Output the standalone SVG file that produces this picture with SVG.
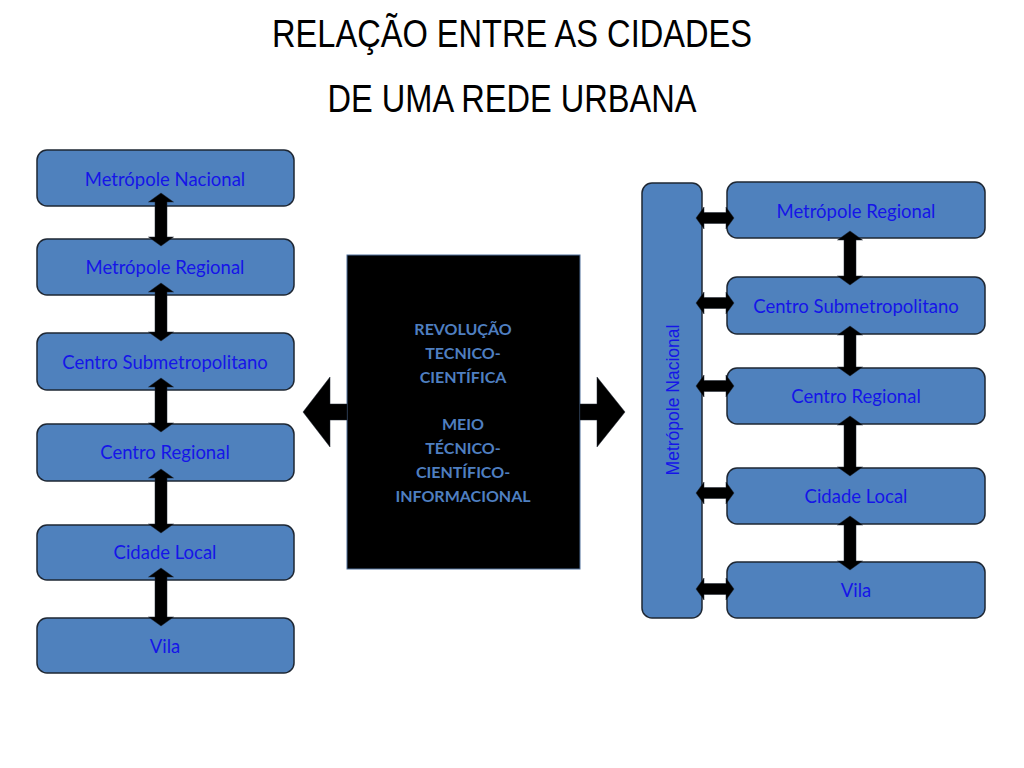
<svg xmlns="http://www.w3.org/2000/svg" width="1024" height="768" viewBox="0 0 1024 768">
<style>
.box{fill:#4f81bd;stroke:#1e2733;stroke-width:1.5}
.lbl{font-family:Lato,"Open Sans","Liberation Sans",sans-serif;font-size:18.5px;fill:#1515e8;text-anchor:middle}
.vlbl{font-family:"Liberation Sans",Arial,sans-serif;font-size:17.5px;fill:#1515e8;text-anchor:middle}
.ctr{font-family:Lato,"Open Sans","Liberation Sans",sans-serif;font-size:16px;font-weight:bold;fill:#4f7fc0;text-anchor:middle}
.title{font-family:"Liberation Sans Narrow","Liberation Sans",Arial,sans-serif;font-size:39px;fill:#000;text-anchor:middle}
.arr{fill:#000;stroke:#1e2733;stroke-width:0.5}
</style>
<rect width="1024" height="768" fill="#fff"/>
<g id="title">
<text class="title" x="512" y="47" textLength="480" lengthAdjust="spacingAndGlyphs">RELAÇÃO ENTRE AS CIDADES</text>
<text class="title" x="512" y="112" textLength="369" lengthAdjust="spacingAndGlyphs">DE UMA REDE URBANA</text>
</g>
<g id="left-metropole-nacional"><rect class="box" x="37" y="150" width="257" height="56" rx="10"/><text class="lbl" x="165" y="186">Metrópole Nacional</text></g>
<g id="left-metropole-regional"><rect class="box" x="37" y="239" width="257" height="56" rx="10"/><text class="lbl" x="165" y="274">Metrópole Regional</text></g>
<g id="left-centro-submetropolitano"><rect class="box" x="37" y="333" width="257" height="57" rx="10"/><text class="lbl" x="165" y="369">Centro Submetropolitano</text></g>
<g id="left-centro-regional"><rect class="box" x="37" y="424" width="257" height="57" rx="10"/><text class="lbl" x="165" y="459">Centro Regional</text></g>
<g id="left-cidade-local"><rect class="box" x="37" y="525" width="257" height="55" rx="10"/><text class="lbl" x="165" y="559">Cidade Local</text></g>
<g id="left-vila"><rect class="box" x="37" y="618" width="257" height="55" rx="10"/><text class="lbl" x="165" y="653">Vila</text></g>
<g id="center-box">
<rect x="347" y="255" width="233" height="314" fill="#000" stroke="#4f6f99" stroke-width="1"/>
<text class="ctr" x="463" y="335">REVOLUÇÃO</text>
<text class="ctr" x="463" y="359">TECNICO-</text>
<text class="ctr" x="463" y="383">CIENTÍFICA</text>
<text class="ctr" x="463" y="430">MEIO</text>
<text class="ctr" x="463" y="454">TÉCNICO-</text>
<text class="ctr" x="463" y="478">CIENTÍFICO-</text>
<text class="ctr" x="463" y="502">INFORMACIONAL</text>
</g>
<g id="right-metropole-nacional"><rect class="box" x="642" y="183" width="60" height="435" rx="10"/><text class="vlbl" x="673" y="406" transform="rotate(-90 673 400)">Metrópole Nacional</text></g>
<g id="right-metropole-regional"><rect class="box" x="727" y="182" width="258" height="56" rx="10"/><text class="lbl" x="856" y="218">Metrópole Regional</text></g>
<g id="right-centro-submetropolitano"><rect class="box" x="727" y="277" width="258" height="57" rx="10"/><text class="lbl" x="856" y="313">Centro Submetropolitano</text></g>
<g id="right-centro-regional"><rect class="box" x="727" y="368" width="258" height="56" rx="10"/><text class="lbl" x="856" y="403">Centro Regional</text></g>
<g id="right-cidade-local"><rect class="box" x="727" y="468" width="258" height="56" rx="10"/><text class="lbl" x="856" y="503">Cidade Local</text></g>
<g id="right-vila"><rect class="box" x="727" y="562" width="258" height="56" rx="10"/><text class="lbl" x="856" y="597">Vila</text></g>
<g id="connectors">
<path class="arr" d="M161,193 L173.5,202 L167,202 L167,237 L173.5,237 L161,246 L148.5,237 L155,237 L155,202 L148.5,202 Z"/>
<path class="arr" d="M161,283 L173.5,292 L167,292 L167,332 L173.5,332 L161,341 L148.5,332 L155,332 L155,292 L148.5,292 Z"/>
<path class="arr" d="M161,378 L173.5,387 L167,387 L167,423 L173.5,423 L161,432 L148.5,423 L155,423 L155,387 L148.5,387 Z"/>
<path class="arr" d="M161,469 L173.5,478 L167,478 L167,524 L173.5,524 L161,533 L148.5,524 L155,524 L155,478 L148.5,478 Z"/>
<path class="arr" d="M161,568 L173.5,577 L167,577 L167,617 L173.5,617 L161,626 L148.5,617 L155,617 L155,577 L148.5,577 Z"/>
<path class="arr" d="M303,412 L330,377 L330,404 L347,404 L347,420 L330,420 L330,447 Z"/>
<path class="arr" d="M625,412 L597,377 L597,404 L580,404 L580,420 L597,420 L597,447 Z"/>
<path class="arr" d="M850,231 L862.5,240 L856,240 L856,276 L862.5,276 L850,285 L837.5,276 L844,276 L844,240 L837.5,240 Z"/>
<path class="arr" d="M850,326 L862.5,335 L856,335 L856,367 L862.5,367 L850,376 L837.5,367 L844,367 L844,335 L837.5,335 Z"/>
<path class="arr" d="M850,416 L862.5,425 L856,425 L856,467 L862.5,467 L850,476 L837.5,467 L844,467 L844,425 L837.5,425 Z"/>
<path class="arr" d="M850,516 L862.5,525 L856,525 L856,561 L862.5,561 L850,570 L837.5,561 L844,561 L844,525 L837.5,525 Z"/>
<path class="arr" d="M696,218 L704,207 L704,212.5 L726,212.5 L726,207 L734,218 L726,229 L726,223.5 L704,223.5 L704,229 Z"/>
<path class="arr" d="M696,303 L704,292 L704,297.5 L726,297.5 L726,292 L734,303 L726,314 L726,308.5 L704,308.5 L704,314 Z"/>
<path class="arr" d="M696,386 L704,375 L704,380.5 L726,380.5 L726,375 L734,386 L726,397 L726,391.5 L704,391.5 L704,397 Z"/>
<path class="arr" d="M696,493 L704,482 L704,487.5 L726,487.5 L726,482 L734,493 L726,504 L726,498.5 L704,498.5 L704,504 Z"/>
<path class="arr" d="M696,589 L704,578 L704,583.5 L726,583.5 L726,578 L734,589 L726,600 L726,594.5 L704,594.5 L704,600 Z"/>
</g>
</svg>
